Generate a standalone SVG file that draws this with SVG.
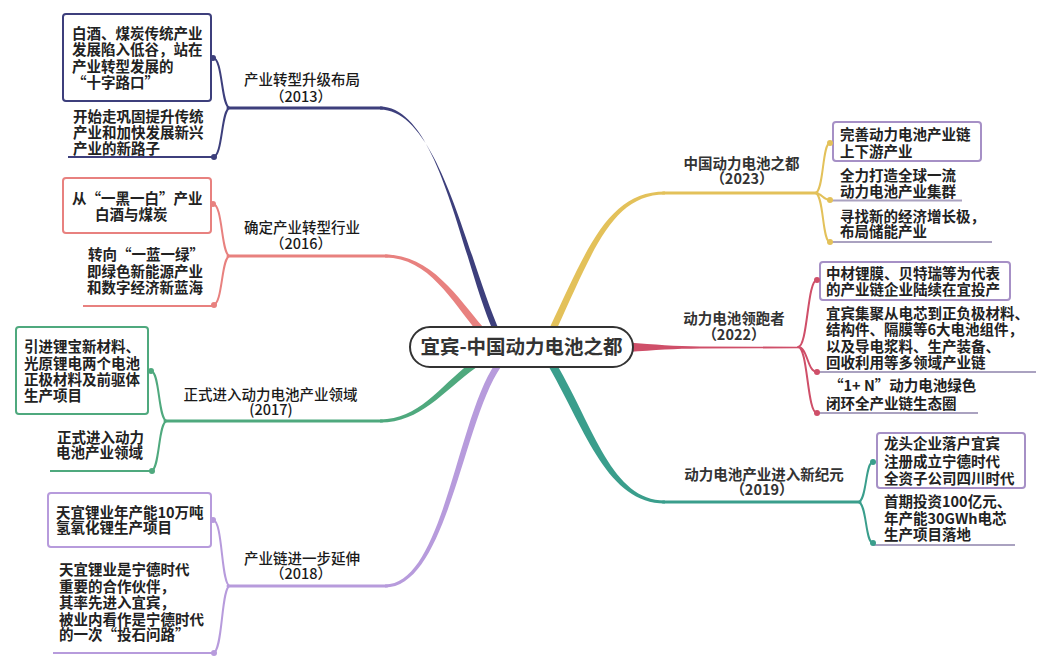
<svg xmlns="http://www.w3.org/2000/svg" width="1047" height="663" viewBox="0 0 1047 663">
<style>
.t{font-family:"Noto Sans CJK SC","Noto Sans",sans-serif;font-size:14.5px;font-weight:bold;fill:#222}
.lbl{font-family:"Noto Sans CJK SC","Noto Sans",sans-serif;font-size:14.5px;font-weight:500;fill:#1a1a1a;text-anchor:middle}
.lblb{font-family:"Noto Sans CJK SC","Noto Sans",sans-serif;font-size:14.5px;font-weight:bold;fill:#333;text-anchor:middle}
.br{fill:none;stroke-width:2;stroke-linecap:round}
.hz{fill:none;stroke-width:3;stroke-linecap:round}
.ul{fill:none;stroke-width:2}
.box{fill:#fff;stroke-width:2}
.navy{stroke:#3d3f7c}.navyf{fill:#3d3f7c}
.pink{stroke:#e8817f}.pinkf{fill:#e8817f}
.green{stroke:#4fa97e}.greenf{fill:#4fa97e}
.purple{stroke:#b79bdc}.purplef{fill:#b79bdc}
.yellow{stroke:#e3c15a}.yellowf{fill:#e3c15a}
.red{stroke:#cf4f69}.redf{fill:#cf4f69}
.teal{stroke:#3a9e8c}.tealf{fill:#3a9e8c}
.pb{stroke:#a690c6}
.pu{stroke:#aaa2c0}
</style>
<rect width="1047" height="663" fill="#fff"/>
<g id="connectors">
  <path class="navyf" d="M380,106.5 C440,106.5 462,262 494,333 L500.5,333 C468,262 440,109.5 380,109.5 Z"/>
  <path class="hz navy" d="M228,108 L382,108"/>
  <path class="pinkf" d="M385,254.5 C431,254.5 458,298 483,327 L477,331 C452,302 429,257.5 385,257.5 Z"/>
  <path class="hz pink" d="M228,256 L387,256"/>
  <path class="greenf" d="M380,419.5 C419,419.5 438,388 471,362.6 L475.5,368 C442,392 421,422.5 380,422.5 Z"/>
  <path class="hz green" d="M165,421 L382,421"/>
  <path class="purplef" d="M385,584.5 C443,584.5 457,419 495.5,363.3 L501,366.7 C463,421 447,587.5 385,587.5 Z"/>
  <path class="hz purple" d="M228,586 L387,586"/>
  <path class="yellowf" d="M550,327 C587,249 608,191.5 665,191.5 L665,194.5 C612,194.5 593,251 556.5,329.5 Z"/>
  <path class="hz yellow" d="M663,193 L817,193"/>
  <path class="redf" d="M628,342.5 C655,344.5 675,346.3 700,346.5 L800,346.7 L800,348.3 L700,348.5 C675,348.7 655,350 628,352 Z"/>
  <path class="tealf" d="M556.5,364 C594,428 612,500.5 665,500.5 L665,503.5 C608,503.5 586,432 549.5,368 Z"/>
  <path class="hz teal" d="M663,502 L860,502"/>
  <path class="br navy" d="M230,108 C221,108 223,58 213,58 M230,108 C221,108 223,157 213,157"/>
  <path class="br pink" d="M230,256 C221,256 223,204 213,204 M230,256 C221,256 223,305 213,305"/>
  <path class="br green" d="M167,421 C158,421 160,371 151,371 M167,421 C158,421 160,471 151,471"/>
  <path class="br purple" d="M230,586 C221,586 223,520 213,520 M230,586 C221,586 223,653 213,653"/>
  <path class="br yellow" d="M815,193 C824,193 822,143 830,143 M815,193 C822,193 823,200 830,200 M815,193 C824,193 822,242 830,242"/>
  <path class="br red" d="M798,347 C808,347 807,280 817,280 M798,347 C808,347 807,372 817,372 M798,347 C808,347 807,413 817,413"/>
  <path class="br teal" d="M858,502 C867,502 865,462 873,462 M858,502 C867,502 865,543 873,543"/>
</g>
<g id="center">
  <rect x="410" y="327" width="223" height="40" rx="20" fill="#fff" stroke="#333" stroke-width="2"/>
  <text x="521.5" y="353.5" text-anchor="middle" style="font-family:'Noto Sans CJK SC',sans-serif;font-size:19.5px;font-weight:bold;fill:#333">宜宾-中国动力电池之都</text>
</g>
<g id="b2013">
  <text class="lbl"><tspan x="302" y="85">产业转型升级布局</tspan><tspan x="301" y="102">（2013）</tspan></text>
  <g id="n2013a">
    <rect class="box navy" x="63" y="14" width="148" height="87" rx="3"/>
    <text class="t"><tspan x="72" y="38.5">白酒、煤炭传统产业</tspan><tspan x="72" y="55">发展陷入低谷，站在</tspan><tspan x="72" y="71.5">产业转型发展的</tspan><tspan x="72" y="88">“十字路口”</tspan></text>
    <circle class="navyf" cx="213" cy="58" r="3"/>
  </g>
  <g id="n2013b">
    <text class="t"><tspan x="73" y="122">开始走巩固提升传统</tspan><tspan x="73" y="138">产业和加快发展新兴</tspan><tspan x="73" y="153.5">产业的新路子</tspan></text>
    <path class="ul navy" d="M68,157 L214,157"/>
    <circle class="navyf" cx="214" cy="157" r="3"/>
  </g>
</g>
<g id="b2016">
  <text class="lbl"><tspan x="302" y="232.5">确定产业转型行业</tspan><tspan x="301" y="248.5">（2016）</tspan></text>
  <g id="n2016a">
    <rect class="box pink" x="63" y="178" width="148" height="55" rx="3"/>
    <text class="t"><tspan x="72" y="203.5">从“一黑一白”产业</tspan><tspan x="95" y="219.5">白酒与煤炭</tspan></text>
    <circle class="pinkf" cx="213" cy="204" r="3"/>
  </g>
  <g id="n2016b">
    <text class="t"><tspan x="88" y="260">转向“一蓝一绿”</tspan><tspan x="87" y="276.5">即绿色新能源产业</tspan><tspan x="87" y="292.5">和数字经济新蓝海</tspan></text>
    <path class="ul pink" d="M83,306 L214,306"/>
    <circle class="pinkf" cx="214" cy="305" r="3"/>
  </g>
</g>
<g id="b2017">
  <text class="lbl"><tspan x="270.5" y="399.5">正式进入动力电池产业领域</tspan><tspan x="271" y="414.5">(2017)</tspan></text>
  <g id="n2017a">
    <rect class="box green" x="16" y="327" width="132" height="87" rx="3"/>
    <text class="t"><tspan x="24" y="351.5">引进锂宝新材料、</tspan><tspan x="24" y="369">光原锂电两个电池</tspan><tspan x="24" y="385">正极材料及前驱体</tspan><tspan x="24" y="401">生产项目</tspan></text>
    <circle class="greenf" cx="151" cy="371" r="3"/>
  </g>
  <g id="n2017b">
    <text class="t"><tspan x="57" y="442.5">正式进入动力</tspan><tspan x="56" y="458">电池产业领域</tspan></text>
    <path class="ul green" d="M50,471 L152,471"/>
    <circle class="greenf" cx="152" cy="471" r="3"/>
  </g>
</g>
<g id="b2018">
  <text class="lbl"><tspan x="302" y="563.5">产业链进一步延伸</tspan><tspan x="301" y="578.5">（2018）</tspan></text>
  <g id="n2018a">
    <rect class="box purple" x="48" y="493" width="163" height="54" rx="3"/>
    <text class="t"><tspan x="56" y="517.5">天宜锂业年产能10万吨</tspan><tspan x="56" y="533">氢氧化锂生产项目</tspan></text>
    <circle class="purplef" cx="213" cy="520" r="3"/>
  </g>
  <g id="n2018b">
    <text class="t"><tspan x="59" y="575">天宜锂业是宁德时代</tspan><tspan x="59" y="591.5">重要的合作伙伴，</tspan><tspan x="59" y="608">其率先进入宜宾，</tspan><tspan x="59" y="624.5">被业内看作是宁德时代</tspan><tspan x="59" y="640">的一次“投石问路”</tspan></text>
    <path class="ul purple" d="M53,653 L214,653"/>
    <circle class="purplef" cx="214" cy="653" r="3"/>
  </g>
</g>
<g id="b2023">
  <text class="lblb"><tspan x="741.5" y="168.5">中国动力电池之都</tspan><tspan x="742" y="184">（2023）</tspan></text>
  <g id="n2023a">
    <rect class="box pb" x="833" y="122" width="148" height="39" rx="3"/>
    <text class="t"><tspan x="840" y="140">完善动力电池产业链</tspan><tspan x="840" y="156.5">上下游产业</tspan></text>
    <circle class="yellowf" cx="830" cy="143" r="3"/>
  </g>
  <g id="n2023b">
    <text class="t"><tspan x="840" y="181">全力打造全球一流</tspan><tspan x="840" y="196.5">动力电池产业集群</tspan></text>
    <path class="ul pu" d="M828,200.5 L962,200.5"/>
    <circle class="yellowf" cx="830" cy="200" r="3"/>
  </g>
  <g id="n2023c">
    <text class="t"><tspan x="840" y="221.5">寻找新的经济增长极，</tspan><tspan x="840" y="236.5">布局储能产业</tspan></text>
    <path class="ul pu" d="M828,242 L992,242"/>
    <circle class="yellowf" cx="830" cy="242" r="3"/>
  </g>
</g>
<g id="b2022">
  <text class="lblb"><tspan x="734" y="324">动力电池领跑者</tspan><tspan x="734" y="340">（2022）</tspan></text>
  <g id="n2022a">
    <rect class="box pb" x="820" y="262" width="190" height="38" rx="3"/>
    <text class="t"><tspan x="826" y="278.5">中材锂膜、贝特瑞等为代表</tspan><tspan x="826" y="294.5">的产业链企业陆续在宜投产</tspan></text>
    <circle class="redf" cx="817" cy="280" r="3"/>
  </g>
  <g id="n2022b">
    <text class="t"><tspan x="826" y="318.5">宜宾集聚从电芯到正负极材料、</tspan><tspan x="826" y="335">结构件、隔膜等6大电池组件，</tspan><tspan x="826" y="351.5">以及导电浆料、生产装备、</tspan><tspan x="826" y="368">回收利用等多领域产业链</tspan></text>
    <path class="ul pu" d="M815,372 L1036,372"/>
    <circle class="redf" cx="817" cy="372" r="3"/>
  </g>
  <g id="n2022c">
    <text class="t"><tspan x="829" y="391">“1+ N”动力电池绿色</tspan><tspan x="826" y="408.5">闭环全产业链生态圈</tspan></text>
    <path class="ul pu" d="M815,413 L978,413"/>
    <circle class="redf" cx="817" cy="413" r="3"/>
  </g>
</g>
<g id="b2019">
  <text class="lblb"><tspan x="764" y="480">动力电池产业进入新纪元</tspan><tspan x="762" y="495">（2019）</tspan></text>
  <g id="n2019a">
    <rect class="box pb" x="877" y="433" width="148" height="55" rx="3"/>
    <text class="t"><tspan x="884" y="448.5">龙头企业落户宜宾</tspan><tspan x="884" y="466.5">注册成立宁德时代</tspan><tspan x="884" y="483.5">全资子公司四川时代</tspan></text>
    <circle class="tealf" cx="873" cy="462" r="3"/>
  </g>
  <g id="n2019b">
    <text class="t"><tspan x="884" y="506.5">首期投资100亿元、</tspan><tspan x="884" y="523.5">年产能30GWh电芯</tspan><tspan x="884" y="540">生产项目落地</tspan></text>
    <path class="ul pu" d="M873,545 L1015,545"/>
    <circle class="tealf" cx="873" cy="543" r="3"/>
  </g>
</g>
</svg>
